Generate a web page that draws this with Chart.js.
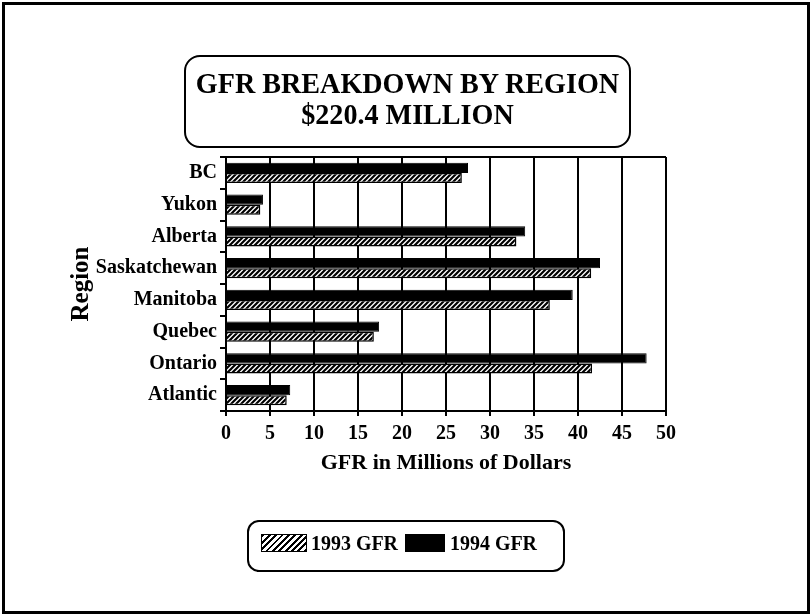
<!DOCTYPE html>
<html>
<head>
<meta charset="utf-8">
<title>GFR Breakdown by Region</title>
<script src="https://cdn.jsdelivr.net/npm/chart.js@4.4.0/dist/chart.umd.min.js"></script>
<style>
  body { margin: 0; background: #fff; font-family: 'Liberation Serif', 'Times New Roman', serif; color: #000; }
  #page { position: relative; width: 812px; height: 616px; overflow: hidden; }
  #frame { position: absolute; left: 2px; top: 2px; width: 808px; height: 612px; box-sizing: border-box; border: 3px solid #000; }
  #chart { position: absolute; left: 0; top: 0; }
  #titleBox { position: absolute; left: 184px; top: 55px; width: 447px; height: 93px; box-sizing: border-box; border: 2px solid #000; border-radius: 16px; }
  .tline { position: absolute; left: 184px; width: 447px; text-align: center; font-weight: bold; font-size: 29px; line-height: 29px; white-space: nowrap; transform: scaleX(0.97); transform-origin: 50% 50%; }
  #legendBox { position: absolute; left: 247px; top: 520px; width: 318px; height: 52px; box-sizing: border-box; border: 2px solid #000; border-radius: 12px; }
  .swatch { position: absolute; top: 534px; height: 18px; box-sizing: border-box; border: 1.5px solid #000; }
  .hatch { background: repeating-linear-gradient(135deg, #000 0 2px, #fff 2px 4.5px); }
  .solid { background: #000; }
  .ltext { position: absolute; top: 530px; font-weight: bold; font-size: 21px; line-height: 26px; white-space: nowrap; transform: scaleX(0.95); transform-origin: 0 50%; }
</style>
</head>
<body>
<div id="page">
  <canvas id="chart" width="812" height="616"></canvas>
  <div id="frame"></div>
  <div id="titleBox"></div>
  <div class="tline" style="top:69px">GFR BREAKDOWN BY REGION</div>
  <div class="tline" style="top:100px">$220.4 MILLION</div>
  <div id="legendBox"></div>
  <div class="swatch hatch" style="left:261px; width:46px"></div>
  <div class="ltext" style="left:311px">1993 GFR</div>
  <div class="swatch solid" style="left:405px; width:40px"></div>
  <div class="ltext" style="left:450px">1994 GFR</div>
</div>
<script>
const regions = ['BC', 'Yukon', 'Alberta', 'Saskatchewan', 'Manitoba', 'Quebec', 'Ontario', 'Atlantic'];
const gfr1993 = [26.8, 3.9, 33.0, 41.5, 36.8, 16.8, 41.6, 6.9];
const gfr1994 = [27.5, 4.2, 34.0, 42.5, 39.4, 17.4, 47.8, 7.3];
const xMin = 0;
const xMax = 50;
const xStep = 5;

const ctx = document.getElementById('chart').getContext('2d');

// diagonal hatch for the 1993 bars
function makeHatch() {
    const c = document.createElement('canvas');
    c.width = 5;
    c.height = 5;
    const g = c.getContext('2d');
    g.fillStyle = '#fff';
    g.fillRect(0, 0, 5, 5);
    g.strokeStyle = '#000';
    g.lineWidth = 2.2;
    g.beginPath();
    g.moveTo(0, 5); g.lineTo(5, 0);
    g.moveTo(-1, 1); g.lineTo(1, -1);
    g.moveTo(4, 6); g.lineTo(6, 4);
    g.stroke();
    return ctx.createPattern(c, 'repeat');
}

// top edge of the plot frame
const topBorder = {
    id: 'topBorder',
    afterDraw(chart) {
        const a = chart.chartArea;
        const c = chart.ctx;
        c.save();
        c.strokeStyle = '#000';
        c.lineWidth = 2;
        c.beginPath();
        c.moveTo(a.left, a.top);
        c.lineTo(a.right, a.top);
        c.stroke();
        c.restore();
    }
};

const labelFont = { family: "'Liberation Serif', serif", weight: 'bold', size: 20 };

new Chart(ctx, {
    type: 'bar',
    data: {
        labels: regions,
        datasets: [
            { label: '1994 GFR', data: gfr1994, backgroundColor: '#000', borderColor: '#000', borderWidth: 1 },
            { label: '1993 GFR', data: gfr1993, backgroundColor: makeHatch(), borderColor: '#000', borderWidth: 1.5 }
        ]
    },
    options: {
        indexAxis: 'y',
        responsive: false,
        animation: false,
        categoryPercentage: 0.64,
        barPercentage: 1.0,
        layout: { padding: { left: 67, top: 157, right: 146, bottom: 139 } },
        plugins: {
            legend: { display: false },
            tooltip: { enabled: false }
        },
        scales: {
            x: {
                min: xMin,
                max: xMax,
                ticks: { stepSize: xStep, color: '#000', font: labelFont, padding: 6, maxRotation: 0 },
                grid: { color: '#000', lineWidth: 2, drawTicks: true, tickLength: 5 },
                border: { color: '#000', width: 2 },
                title: { display: true, text: 'GFR in Millions of Dollars', color: '#000', padding: 0,
                         font: { family: "'Liberation Serif', serif", weight: 'bold', size: 22 } },
                afterFit(scale) { scale.height = 66; }
            },
            y: {
                ticks: { color: '#000', font: labelFont, padding: 3 },
                grid: { offset: true, drawOnChartArea: false, drawTicks: true, tickLength: 6, color: '#000', lineWidth: 2 },
                border: { color: '#000', width: 2 },
                title: { display: true, text: 'Region', color: '#000', padding: 0,
                         font: { family: "'Liberation Serif', serif", weight: 'bold', size: 25 } },
                afterFit(scale) { scale.width = 159; }
            }
        }
    },
    plugins: [topBorder]
});
</script>
</body>
</html>
